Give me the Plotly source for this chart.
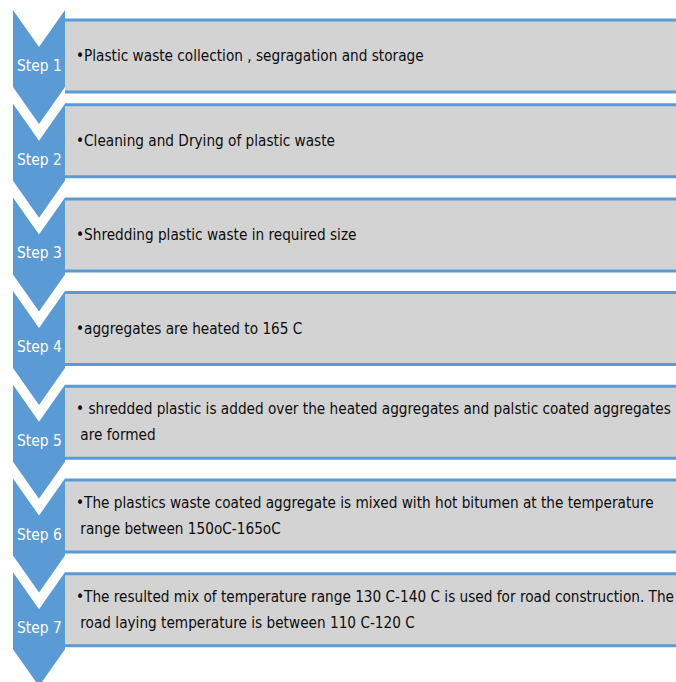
import plotly.graph_objects as go

# ---- data ----
step_labels = ["Step 1", "Step 2", "Step 3", "Step 4", "Step 5", "Step 6", "Step 7"]
step_texts = [
    ["\u2022Plastic waste collection , segragation and storage"],
    ["\u2022Cleaning and Drying of plastic waste"],
    ["\u2022Shredding plastic waste in required size"],
    ["\u2022aggregates are heated to 165 C"],
    ["\u2022 shredded plastic is added over the heated aggregates and palstic coated aggregates",
     " are formed"],
    ["\u2022The plastics waste coated aggregate is mixed with hot bitumen at the temperature",
     " range between 150oC-165oC"],
    ["\u2022The resulted mix of temperature range 130 C-140 C is used for road construction. The",
     " road laying temperature is between 110 C-120 C"],
]

# ---- layout constants ----
W, H = 676, 682
BLUE = "#5B9BD5"
GRAY = "#D3D3D3"
TOP0 = 10
PITCH = 93.7
CH_L, CH_R = 13, 65
NOTCH = 37
SIDE = 77
BOX_H = 72
FONT = "DejaVu Sans Condensed"

fig = go.Figure()
shapes = []
annotations = []
for i, (lab, lines) in enumerate(zip(step_labels, step_texts)):
    t = TOP0 + i * PITCH
    cx = (CH_L + CH_R) / 2
    path = (f"M {CH_L},{t} L {cx},{t + NOTCH} L {CH_R},{t} L {CH_R},{t + SIDE} "
            f"L {cx},{t + SIDE + NOTCH} L {CH_L},{t + SIDE} Z")
    shapes.append(dict(type="path", path=path, fillcolor=BLUE, line=dict(width=0),
                       xref="x", yref="y", layer="above"))
    btop = t + (10 if i == 0 else 1.5)
    if i == 1:
        btop = t + 1
    shapes.append(dict(type="rect", x0=CH_R, x1=W + 20, y0=btop, y1=btop + BOX_H,
                       fillcolor=GRAY, line=dict(width=0), xref="x", yref="y", layer="below"))
    for yy in (btop, btop + BOX_H):
        shapes.append(dict(type="line", x0=CH_R, x1=W + 20, y0=yy, y1=yy,
                           line=dict(color=BLUE, width=3), xref="x", yref="y", layer="below"))
    annotations.append(dict(x=cx, y=t + 56, text=lab, showarrow=False, xref="x", yref="y",
                            font=dict(family=FONT, size=15.4, color="white"),
                            xanchor="center", yanchor="middle"))
    mid = btop + BOX_H / 2
    n = len(lines)
    for j, ln in enumerate(lines):
        yy = mid + (j - (n - 1) / 2) * 26
        annotations.append(dict(x=74, y=yy, text=ln.replace(" ", "\u00a0"), showarrow=False,
                                xref="x", yref="y",
                                font=dict(family=FONT, size=15.2, color="#0d0d0d"),
                                xanchor="left", yanchor="middle"))

fig.update_layout(
    width=W, height=H,
    margin=dict(l=0, r=0, t=0, b=0),
    paper_bgcolor="white", plot_bgcolor="white",
    xaxis=dict(range=[0, W], visible=False, fixedrange=True),
    yaxis=dict(range=[H, 0], visible=False, fixedrange=True),
    shapes=shapes, annotations=annotations, showlegend=False,
)
fig.write_html(
    "out.html",
    config={"displayModeBar": False},
    post_script="document.body.style.margin='0';document.body.style.overflow='hidden';",
)
